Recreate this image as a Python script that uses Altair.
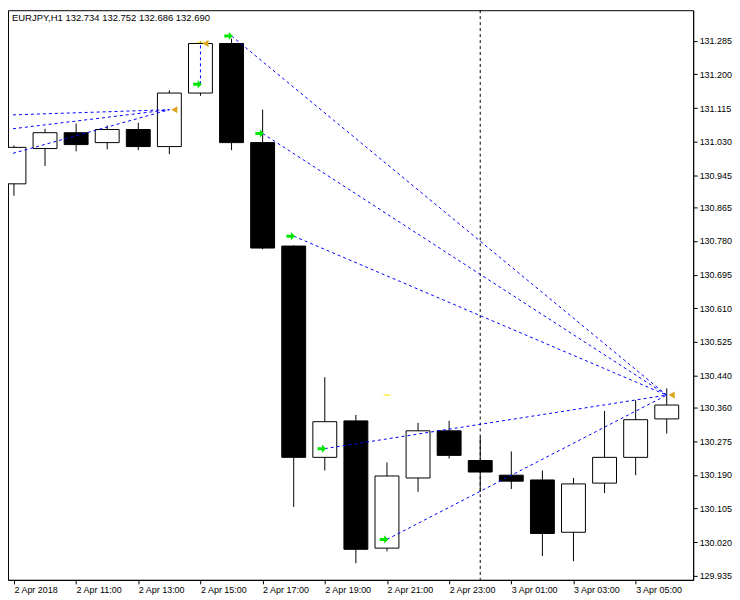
import json
import altair as alt
import pandas as pd

# ---- candle data (EURJPY H1, 2 Apr 09:00 .. 3 Apr 06:00) ----
bar_index = list(range(22))
opens = [130.924, 131.013, 131.053, 131.028, 131.061, 131.018, 131.153, 131.278, 131.028, 130.767, 130.234,
         130.326, 130.005, 130.182, 130.301, 130.226, 130.189, 130.177, 130.045, 130.169, 130.234, 130.331]
highs = [131.021, 131.063, 131.076, 131.071, 131.078, 131.160, 131.283, 131.290, 131.111, 130.769, 130.436,
         130.341, 130.221, 130.321, 130.326, 130.286, 130.249, 130.201, 130.182, 130.351, 130.378, 130.408]
lows = [130.894, 130.969, 131.006, 131.011, 131.009, 130.999, 131.146, 131.009, 130.759, 130.109, 130.201,
        129.967, 129.997, 130.147, 130.231, 130.147, 130.154, 129.985, 129.972, 130.144, 130.189, 130.294]
closes = [131.016, 131.053, 131.023, 131.061, 131.018, 131.153, 131.278, 131.028, 130.762, 130.234, 130.324,
          130.002, 130.187, 130.301, 130.239, 130.197, 130.174, 130.042, 130.167, 130.234, 130.329, 130.366]

# ---- trade history lines ----
trade_open_i = [7, 8, 9, 10, 12, 6, -0.03, -0.03, -0.03]
trade_open_p = [131.297, 131.051, 130.792, 130.256, 130.027, 131.175, 131.098, 131.063, 131.001]
trade_close_i = [21, 21, 21, 21, 21, 6, 5, 5, 5]
trade_close_p = [130.391, 130.391, 130.391, 130.391, 130.391, 131.278, 131.111, 131.111, 131.111]

buy_marker_i = [7, 8, 9, 10, 12, 6]
buy_marker_p = [131.297, 131.051, 130.792, 130.256, 130.027, 131.175]
close_marker_i = [21, 6, 5]
close_marker_p = [130.391, 131.278, 131.111]

level_i = [12, 6]
level_p = [130.391, 131.281]

separator_i = [15]

# ---- axes ----
x_tick_index = [0, 2, 4, 6, 8, 10, 12, 14, 16, 18, 20]
x_tick_labels = ["2 Apr 2018", "2 Apr 11:00", "2 Apr 13:00", "2 Apr 15:00", "2 Apr 17:00", "2 Apr 19:00",
                 "2 Apr 21:00", "2 Apr 23:00", "3 Apr 01:00", "3 Apr 03:00", "3 Apr 05:00"]
y_tick_values = [131.285, 131.200, 131.115, 131.030, 130.945, 130.865, 130.780, 130.695, 130.610,
                 130.525, 130.440, 130.360, 130.275, 130.190, 130.105, 130.020, 129.935]
header_text = "EURJPY,H1  132.734 132.752 132.686 132.690"

FONT = "Liberation Sans"
W, H = 688, 572

candles = pd.DataFrame({"i": bar_index, "open": opens, "high": highs, "low": lows, "close": closes})
candles["bull"] = candles["close"] >= candles["open"]
trades = pd.DataFrame({"i": trade_open_i, "p": trade_open_p, "i2": trade_close_i, "p2": trade_close_p})
buys = pd.DataFrame({"i": buy_marker_i, "p": buy_marker_p})
closes_df = pd.DataFrame({"i": close_marker_i, "p": close_marker_p})
levels = pd.DataFrame({"i": level_i, "p": level_p})
seps = pd.DataFrame({"i": separator_i})

label_map = json.dumps({str(k): v for k, v in zip(x_tick_index, x_tick_labels)})

xscale = alt.Scale(domain=[-0.031, 21.69], nice=False, zero=False)
yscale = alt.Scale(domain=[129.925, 131.362], nice=False, zero=False)

x_axis = alt.Axis(values=x_tick_index, labelExpr=f"{label_map}[''+datum.value]", labelAlign="left",
                  orient="bottom", tickSize=4, labelPadding=2, grid=False, title=None,
                  labelOverlap=False, labelFlush=False, domainColor="black", tickColor="black")
y_axis = alt.Axis(values=y_tick_values, format=".3f", orient="right", tickSize=4, labelPadding=2,
                  grid=False, title=None, labelOverlap=False, labelFlush=False,
                  domainColor="black", tickColor="black")

X = alt.X("i:Q", scale=xscale, axis=x_axis)
Y = alt.Y("p:Q", scale=yscale, axis=y_axis)

base_c = alt.Chart(candles)
wicks = base_c.mark_rule(color="black", strokeWidth=1, clip=True).encode(
    x=alt.X("i:Q", scale=xscale, axis=x_axis),
    y=alt.Y("low:Q", scale=yscale, axis=y_axis),
    y2="high:Q",
)
bodies = base_c.mark_bar(size=24, stroke="black", strokeWidth=1, clip=True).encode(
    x=alt.X("i:Q", scale=xscale, axis=x_axis),
    y=alt.Y("open:Q", scale=yscale, axis=y_axis),
    y2="close:Q",
    fill=alt.condition("datum.bull", alt.value("white"), alt.value("black")),
)

sep = alt.Chart(seps).mark_rule(color="black", strokeDash=[3, 3], strokeWidth=1).encode(
    x=alt.X("i:Q", scale=xscale, axis=x_axis)
)

trade_lines = alt.Chart(trades).mark_rule(color="#0000ff", strokeDash=[3, 3], strokeWidth=1, clip=True).encode(
    x=X, y=Y, x2="i2:Q", y2="p2:Q"
)

arrow_path = "M-1,-0.35 L0.05,-0.35 L0.05,-0.95 L1,0 L0.05,0.95 L0.05,0.35 L-1,0.35 Z"
buy_pts = alt.Chart(buys).mark_point(shape=arrow_path, filled=True, color="#00e600", size=75,
                                     opacity=1, xOffset=-3).encode(x=X, y=Y)
close_pts = alt.Chart(closes_df).mark_point(shape="triangle-left", filled=True, color="#daa520",
                                            size=50, opacity=1, xOffset=5).encode(x=X, y=Y)
level_ticks = alt.Chart(levels).mark_tick(orient="horizontal", color="#ffe000", size=7,
                                          thickness=1.5).encode(x=X, y=Y)

header = alt.Chart(seps).mark_text(text=header_text, align="left", baseline="middle", font=FONT,
                                   fontSize=9.5, color="black").encode(x=alt.value(4), y=alt.value(8))

chart = alt.layer(sep, wicks, bodies, trade_lines, level_ticks, buy_pts, close_pts, header).properties(
    width=W, height=H, background="white", padding=0
).configure_view(stroke="black", strokeWidth=1).configure_axis(
    labelFont=FONT, labelFontSize=9, labelColor="black", domainWidth=1, tickWidth=1
)

chart.save("out.html", embed_options={"renderer": "svg", "actions": False})
